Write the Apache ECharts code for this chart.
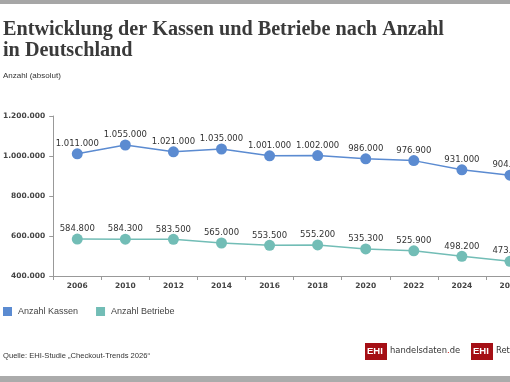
<!DOCTYPE html>
<html>
<head>
<meta charset="utf-8">
<script src="https://cdn.jsdelivr.net/npm/echarts@6/dist/echarts.min.js"></script>
<style>
html,body{margin:0;padding:0;background:#fff;overflow:hidden;width:510px;height:382px;}
#c{width:560px;height:382px;}
</style>
</head>
<body>
<div id="c"></div>
<script>
const years = ['2006','2010','2012','2014','2016','2018','2020','2022','2024','2026'];
const kassen = [1011000,1055000,1021000,1035000,1001000,1002000,986000,976900,931000,904000];
const betriebe = [584800,584300,583500,565000,553500,555200,535300,525900,498200,473600];
const yTicks = [400000,600000,800000,1000000,1200000];
const seriesNames = ['Anzahl Kassen','Anzahl Betriebe'];
const colors = ['#5b8bd1','#72bdb6'];

function fmt(v){ return String(Math.round(v)).replace(/\B(?=(\d{3})+(?!\d))/g,'.'); }

const chart = echarts.init(document.getElementById('c'), null, {renderer:'canvas'});
const labelStyle = {show:true, position:'top', distance:0, fontFamily:'DejaVu Sans', fontSize:8.5, color:'#333', formatter:p=>fmt(p.value)};
chart.setOption({
  animation:false,
  backgroundColor:'#fff',
  textStyle:{fontFamily:'DejaVu Sans'},
  title:[
    {text:'Entwicklung der Kassen und Betriebe nach Anzahl\nin Deutschland', left:3, top:19, padding:0,
     textStyle:{fontFamily:'Liberation Serif', fontWeight:'bold', fontSize:20.2, lineHeight:21, color:'#3a3a3a'}},
    {text:'Anzahl (absolut)', left:3, top:72, padding:0, textStyle:{fontFamily:'Liberation Sans', fontWeight:'normal', fontSize:8, color:'#333'}},
    {text:'Quelle: EHI-Studie „Checkout-Trends 2026“', left:3, top:352, padding:0, textStyle:{fontFamily:'Liberation Sans', fontWeight:'normal', fontSize:7.6, color:'#333'}}
  ],
  legend:{left:3, top:307, padding:0, itemWidth:9, itemHeight:9, itemGap:18, icon:'rect',
    textStyle:{fontFamily:'Liberation Sans', fontSize:9, color:'#444', padding:[0,0,0,1]},
    data:seriesNames},
  grid:{left:53, right:26, top:116, bottom:106, containLabel:false},
  xAxis:{type:'category', data:years, boundaryGap:true,
    axisLine:{lineStyle:{color:'#999', width:1}},
    axisTick:{show:true, length:4, lineStyle:{color:'#999'}},
    axisLabel:{fontFamily:'DejaVu Sans', fontWeight:'bold', fontSize:7.5, color:'#444', margin:6}},
  yAxis:{type:'value', min:400000, max:1200000, interval:200000,
    axisLine:{show:true, lineStyle:{color:'#999', width:1}},
    axisTick:{show:true, length:4, lineStyle:{color:'#999'}},
    splitLine:{show:false},
    axisLabel:{fontFamily:'DejaVu Sans', fontWeight:'bold', fontSize:7.5, color:'#444', margin:8, formatter:v=>fmt(v),
      customValues: yTicks}},
  series:[
    {name:seriesNames[0], type:'line', data:kassen, symbol:'circle', symbolSize:11,
      itemStyle:{color:colors[0]}, lineStyle:{color:colors[0], width:1.5}, label:labelStyle},
    {name:seriesNames[1], type:'line', data:betriebe, symbol:'circle', symbolSize:11,
      itemStyle:{color:colors[1]}, lineStyle:{color:colors[1], width:1.5}, label:labelStyle}
  ],
  graphic:[
    {type:'rect', left:0, top:0, shape:{width:560, height:4}, style:{fill:'#a6a6a6'}},
    {type:'rect', left:0, top:376, shape:{width:560, height:6}, style:{fill:'#ababab'}},
    {type:'rect', left:365, top:343, shape:{width:22, height:17}, style:{fill:'#a50f15'}},
    {type:'text', left:367, top:346, style:{text:'EHI', fill:'#fff', font:'bold 9.5px "Liberation Sans"'}},
    {type:'text', left:390, top:346, style:{rich:{a:{fill:'#333', font:'9.3px "DejaVu Sans Condensed"'}, b:{fill:'#c00', font:'9.3px "DejaVu Sans Condensed"'}}, text:'{a|handelsdaten}{b|.}{a|de}'}},
    {type:'rect', left:471, top:343, shape:{width:22, height:17}, style:{fill:'#a50f15'}},
    {type:'text', left:473, top:346, style:{text:'EHI', fill:'#fff', font:'bold 9.5px "Liberation Sans"'}},
    {type:'text', left:496, top:346, style:{text:'Retail Institute', fill:'#333', font:'9.3px "DejaVu Sans Condensed"'}}
  ]
});
</script>
</body>
</html>
